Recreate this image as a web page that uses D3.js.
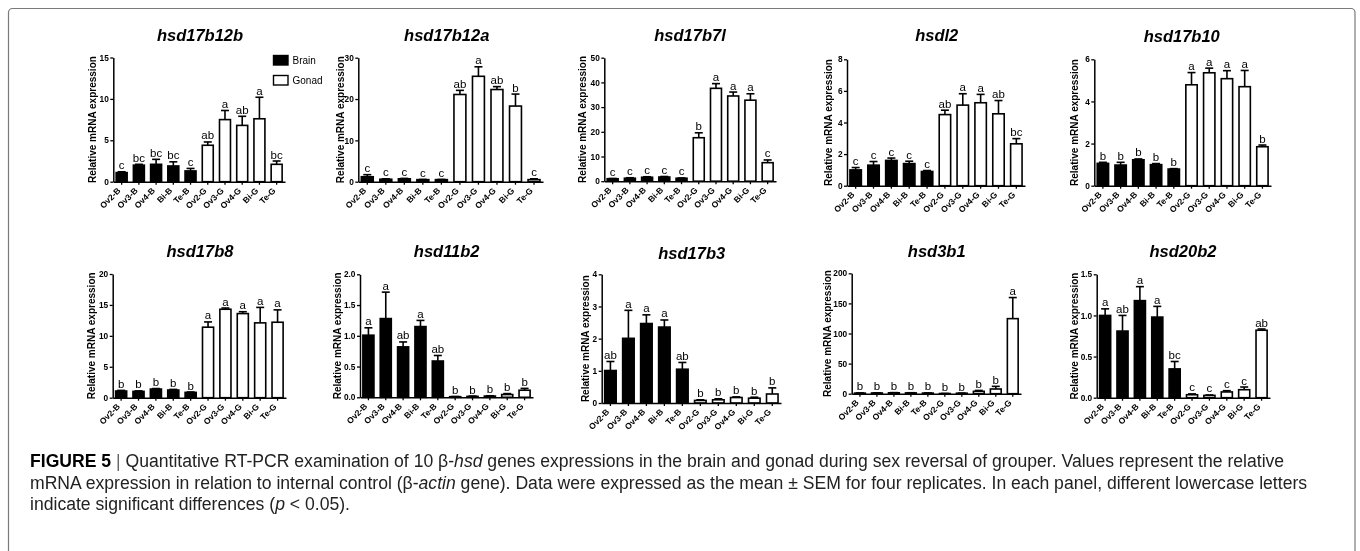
<!DOCTYPE html>
<html>
<head>
<meta charset="utf-8">
<script src="https://cdn.jsdelivr.net/npm/d3@7"></script>
<style>
  body { margin: 0; background: #fff; }
  svg { display: block; font-family: "Liberation Sans", Arial, sans-serif; will-change: transform; }
</style>
</head>
<body>
<svg width="1360" height="551"></svg>
<script>
// groups on the x axis (B = brain, G = gonad)
const groups = ["Ov2-B", "Ov3-B", "Ov4-B", "Bi-B", "Te-B", "Ov2-G", "Ov3-G", "Ov4-G", "Bi-G", "Te-G"];
const tissue = ["Brain", "Brain", "Brain", "Brain", "Brain", "Gonad", "Gonad", "Gonad", "Gonad", "Gonad"];

const genes = ["hsd17b12b", "hsd17b12a", "hsd17b7l", "hsdl2", "hsd17b10",
               "hsd17b8", "hsd11b2", "hsd17b3", "hsd3b1", "hsd20b2"];

// mean relative expression, one row per gene
const means = [
  [1.1, 2.0, 2.1, 1.9, 1.3, 4.4, 7.5, 6.8, 7.6, 2.1],
  [1.2, 0.6, 0.7, 0.5, 0.5, 21.1, 25.5, 22.3, 18.3, 0.5],
  [1.0, 1.2, 1.6, 1.7, 1.2, 17.6, 37.6, 34.5, 32.8, 7.5],
  [1.0, 1.3, 1.6, 1.4, 0.9, 4.5, 5.1, 5.25, 4.55, 2.65],
  [1.06, 0.98, 1.23, 1.0, 0.79, 4.79, 5.36, 5.08, 4.7, 1.85],
  [1.08, 1.02, 1.4, 1.24, 0.86, 11.4, 14.3, 13.6, 12.1, 12.2],
  [1.01, 1.28, 0.82, 1.15, 0.59, 0.01, 0.015, 0.02, 0.045, 0.115],
  [1.01, 2.01, 2.47, 2.36, 1.05, 0.08, 0.1, 0.17, 0.15, 0.28],
  [1.0, 1.2, 1.5, 1.3, 1.0, 0.3, 0.8, 3.9, 7.8, 124.7],
  [1.0, 0.81, 1.18, 0.98, 0.35, 0.036, 0.028, 0.07, 0.097, 0.82]
];

// SEM (upper error bar)
const sems = [
  [0.1, 0.1, 0.6, 0.5, 0.3, 0.4, 1.1, 1.1, 2.6, 0.4],
  [0.5, 0.1, 0.1, 0.05, 0.05, 1.0, 2.3, 0.7, 2.9, 0.2],
  [0.1, 0.2, 0.2, 0.2, 0.1, 2.0, 1.9, 1.6, 2.6, 1.1],
  [0.15, 0.23, 0.15, 0.15, 0.06, 0.28, 0.72, 0.53, 0.84, 0.33],
  [0.05, 0.13, 0.04, 0.05, 0.02, 0.58, 0.22, 0.38, 0.77, 0.08],
  [0.1, 0.08, 0.08, 0.1, 0.06, 0.85, 0.2, 0.3, 2.5, 2.0],
  [0.12, 0.43, 0.08, 0.1, 0.09, 0.003, 0.005, 0.005, 0.015, 0.03],
  [0.28, 0.87, 0.27, 0.22, 0.21, 0.02, 0.03, 0.02, 0.03, 0.19],
  [0.3, 0.3, 0.3, 0.3, 0.3, 0.1, 0.2, 1.5, 4.4, 35],
  [0.08, 0.19, 0.17, 0.13, 0.09, 0.01, 0.005, 0.015, 0.033, 0.015]
];

// significance letters
const letters = [
  ["c", "bc", "bc", "bc", "c", "ab", "a", "ab", "a", "bc"],
  ["c", "c", "c", "c", "c", "ab", "a", "ab", "b", "c"],
  ["c", "c", "c", "c", "c", "b", "a", "a", "a", "c"],
  ["c", "c", "c", "c", "c", "ab", "a", "a", "ab", "bc"],
  ["b", "b", "b", "b", "b", "a", "a", "a", "a", "b"],
  ["b", "b", "b", "b", "b", "a", "a", "a", "a", "a"],
  ["a", "a", "ab", "a", "ab", "b", "b", "b", "b", "b"],
  ["ab", "a", "a", "a", "ab", "b", "b", "b", "b", "b"],
  ["b", "b", "b", "b", "b", "b", "b", "b", "b", "a"],
  ["a", "ab", "a", "a", "bc", "c", "c", "c", "c", "ab"]
];

// y axis ticks per gene
const yTicks = [
  [0, 5, 10, 15],
  [0, 10, 20, 30],
  [0, 10, 20, 30, 40, 50],
  [0, 2, 4, 6, 8],
  [0, 2, 4, 6],
  [0, 5, 10, 15, 20],
  [0, 0.5, 1.0, 1.5, 2.0],
  [0, 1, 2, 3, 4],
  [0, 50, 100, 150, 200],
  [0, 0.5, 1.0, 1.5]
];
const tickDigits = [0, 0, 0, 0, 0, 0, 1, 0, 0, 1];

const legendItems = ["Brain", "Gonad"];

// panel placement (pixels)
const layout = [
  { ax: 113.3, ax1: 285, top: 57.5, zero: 181.7, tx: 200, ty: 40.5, yt: 92 },
  { ax: 358.3, ax1: 543, top: 57.7, zero: 181.7, tx: 446.7, ty: 40.5, yt: 340.5 },
  { ax: 604.3, ax1: 776, top: 57.7, zero: 181.2, tx: 690, ty: 40.5, yt: 582 },
  { ax: 847, ax1: 1025, top: 59.3, zero: 185.7, tx: 936.7, ty: 41, yt: 828.3 },
  { ax: 1094.3, ax1: 1271, top: 59.3, zero: 185.7, tx: 1181.7, ty: 41.5, yt: 1074.3 },
  { ax: 112.7, ax1: 286, top: 274, zero: 397.7, tx: 200, ty: 257, yt: 91.7 },
  { ax: 360, ax1: 533, top: 274.3, zero: 397.3, tx: 446.7, ty: 257, yt: 337.5 },
  { ax: 601.7, ax1: 781, top: 274.3, zero: 403, tx: 691.7, ty: 258.5, yt: 585 },
  { ax: 851.7, ax1: 1021, top: 273.3, zero: 393.7, tx: 936.7, ty: 257, yt: 827.5 },
  { ax: 1096.7, ax1: 1270, top: 274.3, zero: 397.7, tx: 1183, ty: 257, yt: 1074 }
];

const svg = d3.select("svg");

// frame round the figure
svg.append("rect")
  .attr("x", 8.5)
  .attr("y", 8.5)
  .attr("width", 1346.5)
  .attr("height", 600)
  .attr("rx", 4)
  .attr("fill", "none")
  .attr("stroke", "#7a7a7a")
  .attr("stroke-width", 1.2);

genes.forEach((gene, gi) => {
  const L = layout[gi];
  const g = svg.append("g");

  const x = d3.scaleBand()
    .domain(groups)
    .range([L.ax, L.ax1])
    .paddingInner(0.27)
    .paddingOuter(0.12);

  const yMax = d3.max(yTicks[gi]);
  const y = d3.scaleLinear().domain([0, yMax]).range([L.zero, L.top]);

  // title
  g.append("text")
    .attr("x", L.tx)
    .attr("y", L.ty)
    .attr("text-anchor", "middle")
    .attr("font-size", "16.5px")
    .attr("font-weight", "bold")
    .attr("font-style", "italic")
    .text(gene);

  const rows = groups.map((grp, i) => ({
    grp, tissue: tissue[i], mean: means[gi][i], sem: sems[gi][i], letter: letters[gi][i]
  }));

  // bars
  g.selectAll(".bar")
    .data(rows)
    .enter()
    .append("rect")
    .attr("class", "bar")
    .attr("x", d => x(d.grp) + 0.8)
    .attr("width", x.bandwidth() - 1.6)
    .attr("y", d => y(d.mean))
    .attr("height", d => Math.max(0, L.zero - y(d.mean)))
    .attr("fill", d => d.tissue === "Brain" ? "#000" : "#fff")
    .attr("stroke", "#000")
    .attr("stroke-width", 1.6);

  // error bars (upper only)
  const cx = d => x(d.grp) + x.bandwidth() / 2;
  g.selectAll(".err")
    .data(rows)
    .enter()
    .append("line")
    .attr("x1", cx).attr("x2", cx)
    .attr("y1", d => y(d.mean))
    .attr("y2", d => y(d.mean + d.sem))
    .attr("stroke", "#000")
    .attr("stroke-width", 1.6);

  g.selectAll(".cap")
    .data(rows)
    .enter()
    .append("line")
    .attr("x1", d => cx(d) - 4).attr("x2", d => cx(d) + 4)
    .attr("y1", d => y(d.mean + d.sem))
    .attr("y2", d => y(d.mean + d.sem))
    .attr("stroke", "#000")
    .attr("stroke-width", 1.6);

  // significance letters
  g.selectAll(".sig")
    .data(rows)
    .enter()
    .append("text")
    .attr("x", cx)
    .attr("y", d => y(d.mean + d.sem) - 2.5)
    .attr("text-anchor", "middle")
    .attr("font-size", "11.5px")
    .attr("fill", "#000")
    .text(d => d.letter);

  // axes
  const yAxis = g.append("g")
    .attr("transform", `translate(${L.ax},0)`)
    .call(d3.axisLeft(y)
      .tickValues(yTicks[gi])
      .tickSize(3)
      .tickSizeOuter(0)
      .tickPadding(1.5)
      .tickFormat(d3.format(`.${tickDigits[gi]}f`)));

  const xAxis = g.append("g")
    .attr("transform", `translate(0,${L.zero})`)
    .call(d3.axisBottom(x).tickSize(3).tickSizeOuter(0).tickFormat(""));

  [yAxis, xAxis].forEach(a => {
    a.select(".domain").attr("stroke-width", 1.5);
    a.selectAll(".tick line").attr("stroke-width", 1.3);
  });
  yAxis.selectAll(".tick text")
    .attr("font-size", "8.3px")
    .attr("font-weight", "bold")
    .attr("font-family", "Liberation Sans, Arial, sans-serif");

  // rotated group labels
  g.selectAll(".xl")
    .data(groups)
    .enter()
    .append("text")
    .attr("transform", d => `translate(${x(d) + x.bandwidth() / 2 - 0.5},${L.zero + 9.5}) rotate(-45)`)
    .attr("text-anchor", "end")
    .attr("font-size", "8.5px")
    .attr("font-weight", "bold")
    .text(d => d);

  // y axis title
  g.append("text")
    .attr("transform", `translate(${L.yt},${(L.top + L.zero) / 2}) rotate(-90)`)
    .attr("text-anchor", "middle")
    .attr("dy", "0.35em")
    .attr("font-size", "10px")
    .attr("font-weight", "bold")
    .text("Relative mRNA expression");

  // legend only in the first panel
  if (gi === 0) {
    const lg = g.append("g").attr("transform", "translate(273.5,55.5)");
    legendItems.forEach((name, i) => {
      lg.append("rect")
        .attr("x", 0)
        .attr("y", i * 20)
        .attr("width", 14.5)
        .attr("height", 9.5)
        .attr("fill", name === "Brain" ? "#000" : "#fff")
        .attr("stroke", "#000")
        .attr("stroke-width", 1.4);
      lg.append("text")
        .attr("x", 19)
        .attr("y", i * 20 + 8.5)
        .attr("font-size", "10px")
        .text(name);
    });
  }
});

// caption
const capX = 30;
const cap = svg.append("g").attr("font-size", "17.6px").attr("fill", "#222");

const line1 = cap.append("text").attr("x", capX).attr("y", 467);
line1.append("tspan").attr("font-weight", "bold").attr("fill", "#000").text("FIGURE 5");
line1.append("tspan").attr("fill", "#666").text(" | ");
line1.append("tspan").text("Quantitative RT-PCR examination of 10 \u03b2-");
line1.append("tspan").attr("font-style", "italic").text("hsd");
line1.append("tspan").text(" genes expressions in the brain and gonad during sex reversal of grouper. Values represent the relative");

const line2 = cap.append("text").attr("x", capX).attr("y", 488.5);
line2.append("tspan").text("mRNA expression in relation to internal control (\u03b2-");
line2.append("tspan").attr("font-style", "italic").text("actin");
line2.append("tspan").text(" gene). Data were expressed as the mean \u00b1 SEM for four replicates. In each panel, different lowercase letters");

const line3 = cap.append("text").attr("x", capX).attr("y", 510);
line3.append("tspan").text("indicate significant differences (");
line3.append("tspan").attr("font-style", "italic").text("p");
line3.append("tspan").text(" < 0.05).");
</script>
</body>
</html>
